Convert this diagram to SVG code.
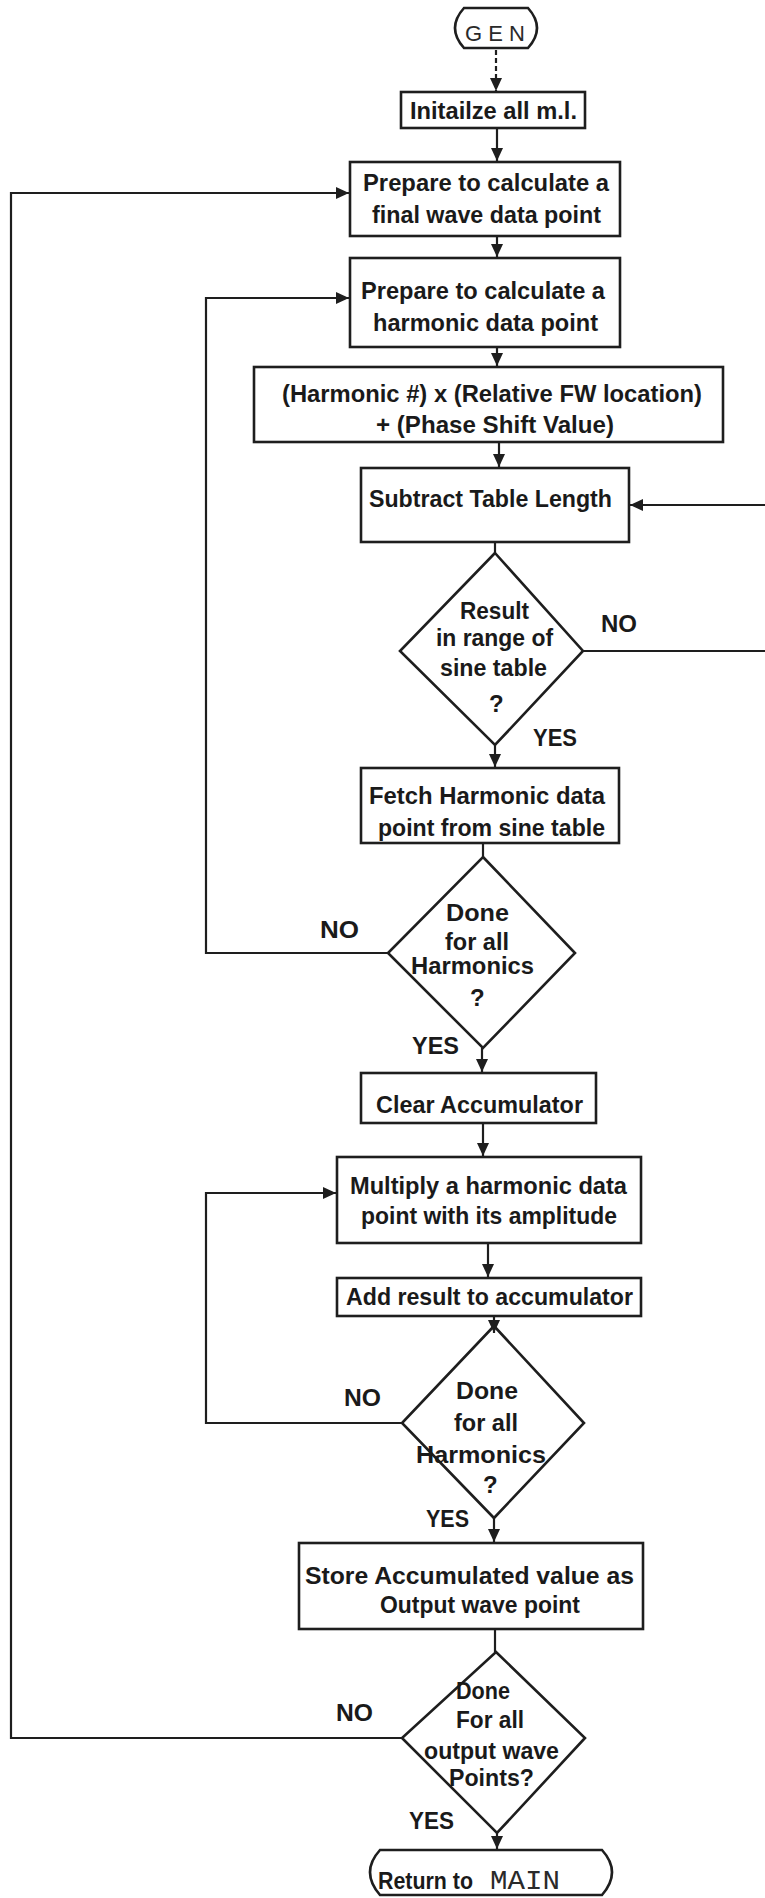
<svg xmlns="http://www.w3.org/2000/svg" width="765" height="1898" viewBox="0 0 765 1898">
<defs>
<style>
.box{fill:none;stroke:#1e1e1e;stroke-width:2.6}
.ln{fill:none;stroke:#1e1e1e;stroke-width:2.2}
.t{font-family:"Liberation Sans",Arial,sans-serif;font-weight:bold;font-size:24px;fill:#1a1a1a}
.g{font-family:"Liberation Sans",Arial,sans-serif;font-size:22px;fill:#2a2a2a}
.m{font-family:"Liberation Mono","Courier New",monospace;font-size:27px;fill:#2a2a2a}
</style>
<marker id="ah" markerUnits="userSpaceOnUse" markerWidth="14" markerHeight="14" viewBox="0 0 14 14" refX="13" refY="7" orient="auto">
<path d="M0,1 L13,7 L0,13 Z" fill="#1e1e1e"/>
</marker>
</defs>
<rect width="765" height="1898" fill="#ffffff"/>

<g id="connectors">
<path class="ln" d="M496,50 V91" stroke-dasharray="5 3" marker-end="url(#ah)"/>
<path class="ln" d="M497,128 V161" marker-end="url(#ah)"/>
<path class="ln" d="M497,236 V257" marker-end="url(#ah)"/>
<path class="ln" d="M497,347 V366" marker-end="url(#ah)"/>
<path class="ln" d="M499,442 V467" marker-end="url(#ah)"/>
<path class="ln" d="M495,542 V553"/>
<path class="ln" d="M495,745 V767" marker-end="url(#ah)"/>
<path class="ln" d="M583,651 H767 V505 H630" marker-end="url(#ah)"/>
<path class="ln" d="M483,843 V857"/>
<path class="ln" d="M388,953 H206 V298 H349" marker-end="url(#ah)"/>
<path class="ln" d="M482,1048 V1072" marker-end="url(#ah)"/>
<path class="ln" d="M483,1123 V1156" marker-end="url(#ah)"/>
<path class="ln" d="M488,1243 V1277" marker-end="url(#ah)"/>
<path class="ln" d="M494,1316 V1333" marker-end="url(#ah)"/>
<path class="ln" d="M402,1423 H206 V1193 H336" marker-end="url(#ah)"/>
<path class="ln" d="M494,1518 V1542" marker-end="url(#ah)"/>
<path class="ln" d="M495,1629 V1652"/>
<path class="ln" d="M402,1738 H11 V193 H349" marker-end="url(#ah)"/>
<path class="ln" d="M497,1833 V1849" marker-end="url(#ah)"/>
</g>

<g id="gen">
<path class="box" d="M464,8 H528 Q546,28 528,48 H464 Q446,28 464,8 Z"/>
<text class="g" x="465" y="41" textLength="60" lengthAdjust="spacing">GEN</text>
</g>

<g id="init">
<rect class="box" x="401" y="92" width="184" height="36"/>
<text class="t" x="410" y="119" textLength="167" lengthAdjust="spacingAndGlyphs">Initailze all m.l.</text>
</g>

<g id="prep-final">
<rect class="box" x="350" y="162" width="270" height="74"/>
<text class="t" x="363" y="191" textLength="246" lengthAdjust="spacingAndGlyphs">Prepare to calculate a</text>
<text class="t" x="372" y="223" textLength="229" lengthAdjust="spacingAndGlyphs">final wave data point</text>
</g>

<g id="prep-harmonic">
<rect class="box" x="350" y="258" width="270" height="89"/>
<text class="t" x="361" y="299" textLength="244" lengthAdjust="spacingAndGlyphs">Prepare to calculate a</text>
<text class="t" x="373" y="331" textLength="225" lengthAdjust="spacingAndGlyphs">harmonic data point</text>
</g>

<g id="harmonic-calc">
<rect class="box" x="254" y="367" width="469" height="75"/>
<text class="t" x="282" y="402" textLength="420" lengthAdjust="spacingAndGlyphs">(Harmonic #) x (Relative FW location)</text>
<text class="t" x="376" y="433" textLength="238" lengthAdjust="spacingAndGlyphs">+ (Phase Shift Value)</text>
</g>

<g id="subtract">
<rect class="box" x="361" y="468" width="268" height="74"/>
<text class="t" x="369" y="507" textLength="243" lengthAdjust="spacingAndGlyphs">Subtract Table Length</text>
</g>

<g id="decision-range">
<path class="box" d="M495,553 L583,651 L495,745 L400,651 Z"/>
<text class="t" x="460" y="619" textLength="69" lengthAdjust="spacingAndGlyphs">Result</text>
<text class="t" x="436" y="646" textLength="117" lengthAdjust="spacingAndGlyphs">in range of</text>
<text class="t" x="440" y="676" textLength="107" lengthAdjust="spacingAndGlyphs">sine table</text>
<text class="t" x="489" y="712">?</text>
<text class="t" x="601" y="632" textLength="36" lengthAdjust="spacingAndGlyphs">NO</text>
<text class="t" x="533" y="746" textLength="44" lengthAdjust="spacingAndGlyphs">YES</text>
</g>

<g id="fetch">
<rect class="box" x="361" y="768" width="258" height="75"/>
<text class="t" x="369" y="804" textLength="236" lengthAdjust="spacingAndGlyphs">Fetch Harmonic data</text>
<text class="t" x="378" y="836" textLength="227" lengthAdjust="spacingAndGlyphs">point from sine table</text>
</g>

<g id="decision-harmonics-1">
<path class="box" d="M483,857 L575,953 L483,1048 L388,953 Z"/>
<text class="t" x="446" y="921" textLength="63" lengthAdjust="spacingAndGlyphs">Done</text>
<text class="t" x="445" y="950" textLength="64" lengthAdjust="spacingAndGlyphs">for all</text>
<text class="t" x="411" y="974" textLength="123" lengthAdjust="spacingAndGlyphs">Harmonics</text>
<text class="t" x="470" y="1006">?</text>
<text class="t" x="320" y="938" textLength="39" lengthAdjust="spacingAndGlyphs">NO</text>
<text class="t" x="412" y="1054" textLength="47" lengthAdjust="spacingAndGlyphs">YES</text>
</g>

<g id="clear">
<rect class="box" x="361" y="1073" width="235" height="50"/>
<text class="t" x="376" y="1113" textLength="207" lengthAdjust="spacingAndGlyphs">Clear Accumulator</text>
</g>

<g id="multiply">
<rect class="box" x="337" y="1157" width="304" height="86"/>
<text class="t" x="350" y="1194" textLength="277" lengthAdjust="spacingAndGlyphs">Multiply a harmonic data</text>
<text class="t" x="361" y="1224" textLength="256" lengthAdjust="spacingAndGlyphs">point with its amplitude</text>
</g>

<g id="add-result">
<rect class="box" x="337" y="1278" width="304" height="38"/>
<text class="t" x="346" y="1305" textLength="287" lengthAdjust="spacingAndGlyphs">Add result to accumulator</text>
</g>

<g id="decision-harmonics-2">
<path class="box" d="M494,1326 L584,1423 L494,1518 L402,1423 Z"/>
<text class="t" x="456" y="1399" textLength="62" lengthAdjust="spacingAndGlyphs">Done</text>
<text class="t" x="454" y="1431" textLength="64" lengthAdjust="spacingAndGlyphs">for all</text>
<text class="t" x="416" y="1463" textLength="130" lengthAdjust="spacingAndGlyphs">Harmonics</text>
<text class="t" x="483" y="1493">?</text>
<text class="t" x="344" y="1406" textLength="37" lengthAdjust="spacingAndGlyphs">NO</text>
<text class="t" x="426" y="1527" textLength="43" lengthAdjust="spacingAndGlyphs">YES</text>
</g>

<g id="store">
<rect class="box" x="299" y="1543" width="344" height="86"/>
<text class="t" x="305" y="1584" textLength="329" lengthAdjust="spacingAndGlyphs">Store Accumulated value as</text>
<text class="t" x="380" y="1613" textLength="200" lengthAdjust="spacingAndGlyphs">Output wave point</text>
</g>

<g id="decision-output">
<path class="box" d="M496,1652 L585,1738 L497,1833 L402,1738 Z"/>
<text class="t" x="456" y="1699" textLength="54" lengthAdjust="spacingAndGlyphs">Done</text>
<text class="t" x="456" y="1728" textLength="68" lengthAdjust="spacingAndGlyphs">For all</text>
<text class="t" x="424" y="1759" textLength="135" lengthAdjust="spacingAndGlyphs">output wave</text>
<text class="t" x="449" y="1786" textLength="85" lengthAdjust="spacingAndGlyphs">Points?</text>
<text class="t" x="336" y="1721" textLength="37" lengthAdjust="spacingAndGlyphs">NO</text>
<text class="t" x="409" y="1829" textLength="45" lengthAdjust="spacingAndGlyphs">YES</text>
</g>

<g id="return">
<path class="box" d="M380,1850 H602 Q622,1872 602,1895 H380 Q360,1872 380,1850 Z"/>
<text class="t" x="378" y="1889" textLength="95" lengthAdjust="spacingAndGlyphs">Return to</text>
<text class="m" x="490" y="1889" textLength="70" lengthAdjust="spacingAndGlyphs">MAIN</text>
</g>
</svg>
